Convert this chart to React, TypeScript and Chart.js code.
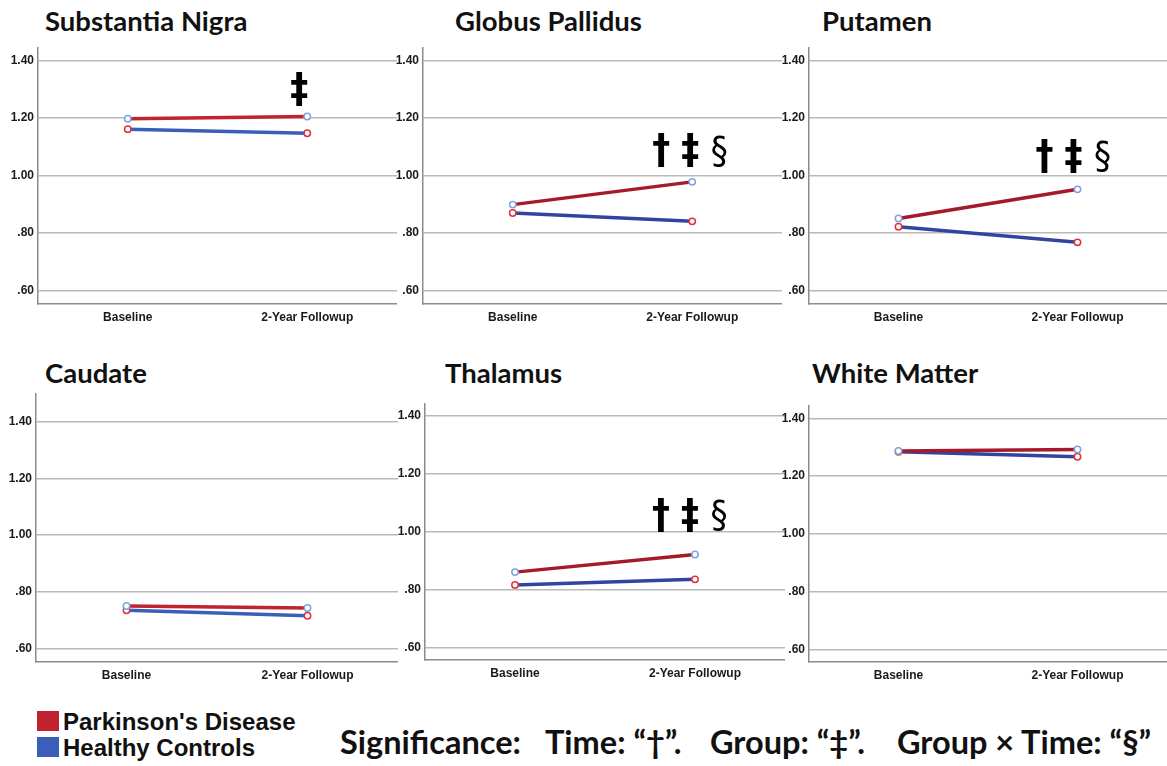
import React, { useEffect, useRef } from "react";
import { Chart, registerables } from "chart.js";

Chart.register(...registerables);

// ---------- data ----------
const categories = ["Baseline", "2-Year Followup"];
const regions = ["Substantia Nigra", "Globus Pallidus", "Putamen", "Caudate", "Thalamus", "White Matter"];
const pdBaseline = [1.197, 0.899, 0.851, 0.75, 0.861, 1.287];
const pdFollowup = [1.205, 0.978, 0.952, 0.743, 0.922, 1.292];
const hcBaseline = [1.161, 0.87, 0.822, 0.735, 0.817, 1.284];
const hcFollowup = [1.147, 0.841, 0.768, 0.716, 0.836, 1.267];
const sigText = ["‡", "† ‡ §", "† ‡ §", "", "† ‡ §", ""];
const sigValue = [1.29, 1.078, 1.059, 0, 1.05, 0];
const tickValues = [0.6, 0.8, 1.0, 1.2, 1.4];
const tickLabels = [".60", ".80", "1.00", "1.20", "1.40"];

// ---------- layout ----------
const YW = 36; // y-axis width
const XH = 30; // x-axis height
const TOPFIX = 10;
const boxes = [
  { left: 38, top: 47, right: 397, bottom: 304, yMin: 0.554, yMax: 1.442, tx: 45, ty: 21, sdx: -8, dark: false },
  { left: 423, top: 47, right: 782, bottom: 304, yMin: 0.554, yMax: 1.442, tx: 455, ty: 21, sdx: -2, dark: true },
  { left: 809, top: 47, right: 1167, bottom: 304, yMin: 0.554, yMax: 1.442, tx: 822, ty: 21, sdx: -4, dark: true },
  { left: 36, top: 393, right: 398, bottom: 662, yMin: 0.553, yMax: 1.496, tx: 45, ty: 373, sdx: 0, dark: false },
  { left: 425, top: 403, right: 785, bottom: 660, yMin: 0.558, yMax: 1.44, tx: 445, ty: 373, sdx: -5, dark: true },
  { left: 809, top: 405, right: 1167, bottom: 662, yMin: 0.556, yMax: 1.442, tx: 812, ty: 373, sdx: 0, dark: true },
];

const RED = "#c0232d";
const BLUE = "#3b5fb8";
const RED_DARK = "#a51a2a";
const BLUE_DARK = "#33449e";

const sigPlugin = {
  id: "sig",
  afterDatasetsDraw(chart: any, _args: any, opts: any) {
    if (!opts || !opts.text) return;
    const ctx = chart.ctx;
    const x = chart.scales.x.getPixelForValue(1) + (opts.dx || 0);
    const y = chart.scales.y.getPixelForValue(opts.y);
    const chars = String(opts.text).split(" ");
    const step = 29;
    ctx.save();
    ctx.fillStyle = "#000";
    ctx.textAlign = "center";
    ctx.textBaseline = "middle";
    chars.forEach((c: string, k: number) => {
      ctx.font = c === "§" ? '38px "DejaVu Sans Condensed", "DejaVu Sans"' : 'bold 40px "DejaVu Sans Condensed", "DejaVu Sans"';
      ctx.fillText(c, x + (k - (chars.length - 1) / 2) * step, y);
    });
    ctx.restore();
  },
};

function Panel({ i }: { i: number }) {
  const ref = useRef<HTMLCanvasElement | null>(null);
  const b = boxes[i];
  useEffect(() => {
    if (!ref.current) return;
    const red = b.dark ? RED_DARK : RED;
    const blue = b.dark ? BLUE_DARK : BLUE;
    const chart = new Chart(ref.current, {
      type: "line",
      data: {
        labels: categories,
        datasets: [
          {
            label: "Parkinson's Disease",
            data: [pdBaseline[i], pdFollowup[i]],
            borderColor: red,
            borderWidth: 3.5,
            pointRadius: 3.2,
            pointBorderWidth: 1.5,
            pointBorderColor: "#7fa3df",
            pointBackgroundColor: "#ffffff",
          },
          {
            label: "Healthy Controls",
            data: [hcBaseline[i], hcFollowup[i]],
            borderColor: blue,
            borderWidth: 3.5,
            pointRadius: 3.2,
            pointBorderWidth: 1.5,
            pointBorderColor: "#e3303c",
            pointBackgroundColor: "#ffffff",
          },
        ],
      },
      options: {
        animation: false,
        responsive: true,
        maintainAspectRatio: false,
        layout: { autoPadding: false, padding: 0 },
        plugins: {
          legend: { display: false },
          tooltip: { enabled: false },
          sig: { text: sigText[i], y: sigValue[i], dx: b.sdx },
        } as any,
        scales: {
          x: {
            type: "category",
            offset: true,
            grid: { display: false, drawTicks: false },
            border: { display: true, color: "#8c8c8c", width: 1.5 },
            ticks: {
              padding: 6,
              color: "#1a1a1a",
              font: { family: '"Liberation Sans", Arial', weight: "bold", size: 12 },
            },
            afterFit: (s: any) => {
              s.height = XH;
            },
          },
          y: {
            type: "linear",
            min: b.yMin,
            max: b.yMax,
            afterBuildTicks: (s: any) => {
              s.ticks = tickValues.map((v) => ({ value: v }));
            },
            grid: { color: "#b9b9b9", lineWidth: 1.5, drawTicks: false },
            border: { display: true, color: "#8c8c8c", width: 1.5 },
            ticks: {
              padding: 4,
              color: "#1a1a1a",
              font: { family: '"Liberation Sans", Arial', weight: "bold", size: 12 },
              callback: (v: any) => {
                const k = tickValues.findIndex((t) => Math.abs(t - Number(v)) < 1e-6);
                return k >= 0 ? tickLabels[k] : "";
              },
            },
            afterFit: (s: any) => {
              s.width = YW;
            },
          },
        },
      },
      plugins: [sigPlugin],
    });
    return () => chart.destroy();
  }, [i]);
  return (
    <>
      <div
        style={{
          position: "absolute",
          left: b.tx,
          top: b.ty - 17,
          lineHeight: "34px",
          fontFamily: "Lato, 'Open Sans', sans-serif",
          fontWeight: 700,
          fontSize: 27.5,
          color: "#111",
          whiteSpace: "nowrap",
        }}
      >
        {regions[i]}
      </div>
      <div
        style={{
          position: "absolute",
          left: b.left - YW,
          top: b.top - TOPFIX,
          width: b.right - b.left + YW,
          height: b.bottom - b.top + XH + TOPFIX,
        }}
      >
        <canvas ref={ref} />
      </div>
    </>
  );
}

const sigParts = [
  { text: "Significance:", x: 340 },
  { text: "Time: “†”.", x: 545 },
  { text: "Group: “‡”.", x: 710 },
  { text: "Group × Time: “§”", x: 897 },
];

export default function App() {
  return (
    <div
      style={{
        position: "absolute",
        left: 0,
        top: 0,
        width: 1167,
        height: 766,
        background: "#fff",
        overflow: "hidden",
      }}
    >
      {boxes.map((_, i) => (
        <Panel key={i} i={i} />
      ))}
      <div style={{ position: "absolute", left: 37, top: 711, width: 22, height: 20, background: RED }} />
      <div style={{ position: "absolute", left: 37, top: 737, width: 22, height: 20, background: BLUE }} />
      <div
        style={{
          position: "absolute",
          left: 63,
          top: 709,
          fontFamily: '"Liberation Sans", Arial',
          fontWeight: 700,
          fontSize: 24,
          lineHeight: "26px",
          color: "#111",
          whiteSpace: "nowrap",
        }}
      >
        Parkinson's Disease
        <br />
        Healthy Controls
      </div>
      {sigParts.map((p, k) => (
        <div
          key={k}
          style={{
            position: "absolute",
            left: p.x,
            top: 722,
            lineHeight: "40px",
            fontFamily: "Lato, 'Open Sans', sans-serif",
            fontWeight: 700,
            fontSize: 32.5,
            color: "#111",
            whiteSpace: "nowrap",
          }}
        >
          {p.text}
        </div>
      ))}
    </div>
  );
}
